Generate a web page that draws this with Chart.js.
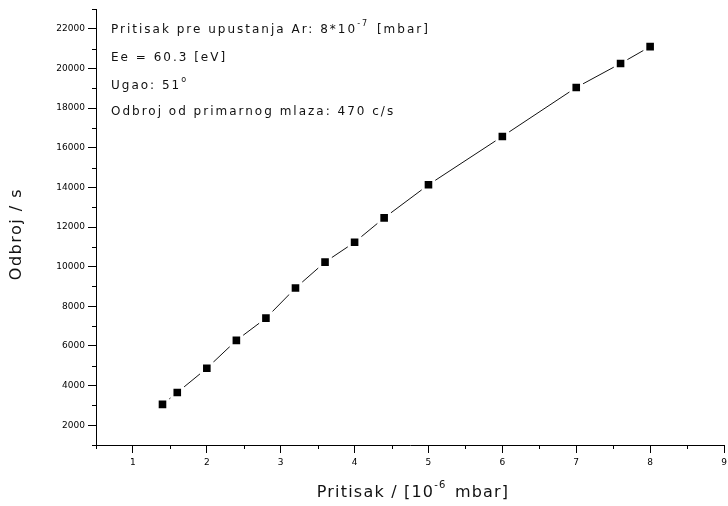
<!DOCTYPE html>
<html>
<head>
<meta charset="utf-8">
<script src="https://cdn.jsdelivr.net/npm/chart.js@4.4.0/dist/chart.umd.min.js"></script>
<style>
  html, body { margin: 0; padding: 0; background: #fff; }
  canvas { display: block; }
</style>
</head>
<body>
<canvas id="chart" width="728" height="506"></canvas>
<script>
// Measured count rate versus chamber pressure
const pressure = [1.4, 1.6, 2.0, 2.4, 2.8, 3.2, 3.6, 4.0, 4.4, 5.0, 6.0, 7.0, 7.6, 8.0];
const counts   = [3050, 3650, 4870, 6280, 7400, 8920, 10230, 11230, 12460, 14130, 16570, 19040, 20250, 21100];

// Axis ticks
const xTickValues  = [1, 2, 3, 4, 5, 6, 7, 8, 9];
const xMinorValues = [0.5, 1.5, 2.5, 3.5, 4.5, 5.5, 6.5, 7.5, 8.5];
const yTickValues  = [2000, 4000, 6000, 8000, 10000, 12000, 14000, 16000, 18000, 20000, 22000];
const yMinorValues = [1000, 3000, 5000, 7000, 9000, 11000, 13000, 15000, 17000, 19000, 21000, 23000];

// Axis titles (superscript parts flagged)
const xTitle = [{ text: 'Pritisak / [10' }, { text: '-6', sup: true }, { text: ' mbar]' }];
const yTitle = [{ text: 'Odbroj / s' }];

// Measurement conditions shown in the upper-left note
const noteLines = [
  [{ text: 'Pritisak pre upustanja Ar: 8*10' }, { text: '-7', sup: true }, { text: ' [mbar]' }],
  [{ text: 'Ee = 60.3 [eV]' }],
  [{ text: 'Ugao: 51' }, { text: 'o', sup: true }],
  [{ text: 'Odbroj od primarnog mlaza: 470 c/s' }]
];

const FONT = "'DejaVu Sans', 'Liberation Sans', Arial, sans-serif";

// Draws a row of text pieces, raising the superscript ones
function drawPieces(ctx, pieces, x, y, size, supSize, spacing, align) {
  ctx.letterSpacing = spacing + 'px';
  const widthOf = p => {
    ctx.font = `${p.sup ? supSize : size}px ${FONT}`;
    return ctx.measureText(p.text).width + (p.sup ? 2 : 0);
  };
  const total = pieces.reduce((s, p) => s + widthOf(p), 0);
  let cx = align === 'center' ? x - total / 2 : x;
  pieces.forEach(p => {
    ctx.font = `${p.sup ? supSize : size}px ${FONT}`;
    ctx.fillText(p.text, cx, p.sup ? y - size * 0.5 : y);
    cx += widthOf(p);
  });
}

// Short outward ticks between the labelled ones
const minorTicks = {
  id: 'minorTicks',
  afterDraw(chart) {
    const { ctx, scales: { x, y } } = chart;
    ctx.save();
    ctx.strokeStyle = '#000';
    ctx.lineWidth = 1;
    ctx.beginPath();
    xMinorValues.forEach(v => {
      const px = Math.round(x.getPixelForValue(v)) + 0.5;
      ctx.moveTo(px, x.top);
      ctx.lineTo(px, x.top + 4);
    });
    yMinorValues.forEach(v => {
      const py = Math.round(y.getPixelForValue(v)) + 0.5;
      ctx.moveTo(y.right, py);
      ctx.lineTo(y.right - 4, py);
    });
    ctx.stroke();
    ctx.restore();
  }
};

// Axis titles with spaced lettering
const axisTitles = {
  id: 'axisTitles',
  afterDraw(chart) {
    const { ctx, chartArea } = chart;
    ctx.save();
    ctx.fillStyle = '#111';
    ctx.textBaseline = 'middle';
    drawPieces(ctx, xTitle, (chartArea.left + chartArea.right) / 2 + 3, 493, 16, 10, 1.2, 'center');
    ctx.translate(17, (chartArea.top + chartArea.bottom) / 2 + 7);
    ctx.rotate(-Math.PI / 2);
    drawPieces(ctx, yTitle, 0, 0, 16, 10, 1.5, 'center');
    ctx.restore();
  }
};

// Text block with the experiment parameters
const conditionsNote = {
  id: 'conditionsNote',
  afterDraw(chart) {
    const { ctx, chartArea } = chart;
    const left = chartArea.left + 15;
    const rows = [30, 58, 86, 112];
    ctx.save();
    ctx.fillStyle = '#111';
    ctx.textBaseline = 'middle';
    noteLines.forEach((pieces, i) => drawPieces(ctx, pieces, left, rows[i], 12, 8, 2, 'left'));
    ctx.restore();
  }
};

new Chart(document.getElementById('chart'), {
  type: 'scatter',
  data: {
    datasets: [{
      data: pressure.map((p, i) => ({ x: p, y: counts[i] })),
      showLine: true,
      borderColor: '#111',
      borderWidth: 1,
      pointStyle: 'rect',
      pointRadius: 7.5,
      pointHoverRadius: 7.5,
      pointBackgroundColor: '#000',
      pointBorderColor: '#fff',
      pointBorderWidth: 3,
      tension: 0
    }]
  },
  options: {
    responsive: false,
    animation: false,
    devicePixelRatio: 1,
    layout: { autoPadding: false, padding: { top: 9, right: 0, left: 0, bottom: 0 } },
    plugins: {
      legend: { display: false },
      tooltip: { enabled: false }
    },
    scales: {
      x: {
        type: 'linear',
        min: 0.5,
        max: 9,
        afterBuildTicks: s => { s.ticks = xTickValues.map(v => ({ value: v })); },
        afterFit: s => { s.height = 61; s.paddingLeft = 0; s.paddingRight = 4; },
        border: { display: true, color: '#000', width: 1 },
        grid: { drawOnChartArea: false, drawTicks: true, tickLength: 8, tickColor: '#000', color: '#000' },
        ticks: { color: '#000', padding: 4, font: { family: FONT, size: 9 }, maxRotation: 0, callback: v => String(v) },
        title: { display: false }
      },
      y: {
        type: 'linear',
        min: 1000,
        max: 23000,
        afterBuildTicks: s => { s.ticks = yTickValues.map(v => ({ value: v })); },
        afterFit: s => { s.width = 96; },
        border: { display: true, color: '#000', width: 1 },
        grid: { drawOnChartArea: false, drawTicks: true, tickLength: 8, tickColor: '#000', color: '#000' },
        ticks: { color: '#000', padding: 3, font: { family: FONT, size: 9 }, callback: v => String(v) },
        title: { display: false }
      }
    }
  },
  plugins: [minorTicks, axisTitles, conditionsNote]
});
</script>
</body>
</html>
